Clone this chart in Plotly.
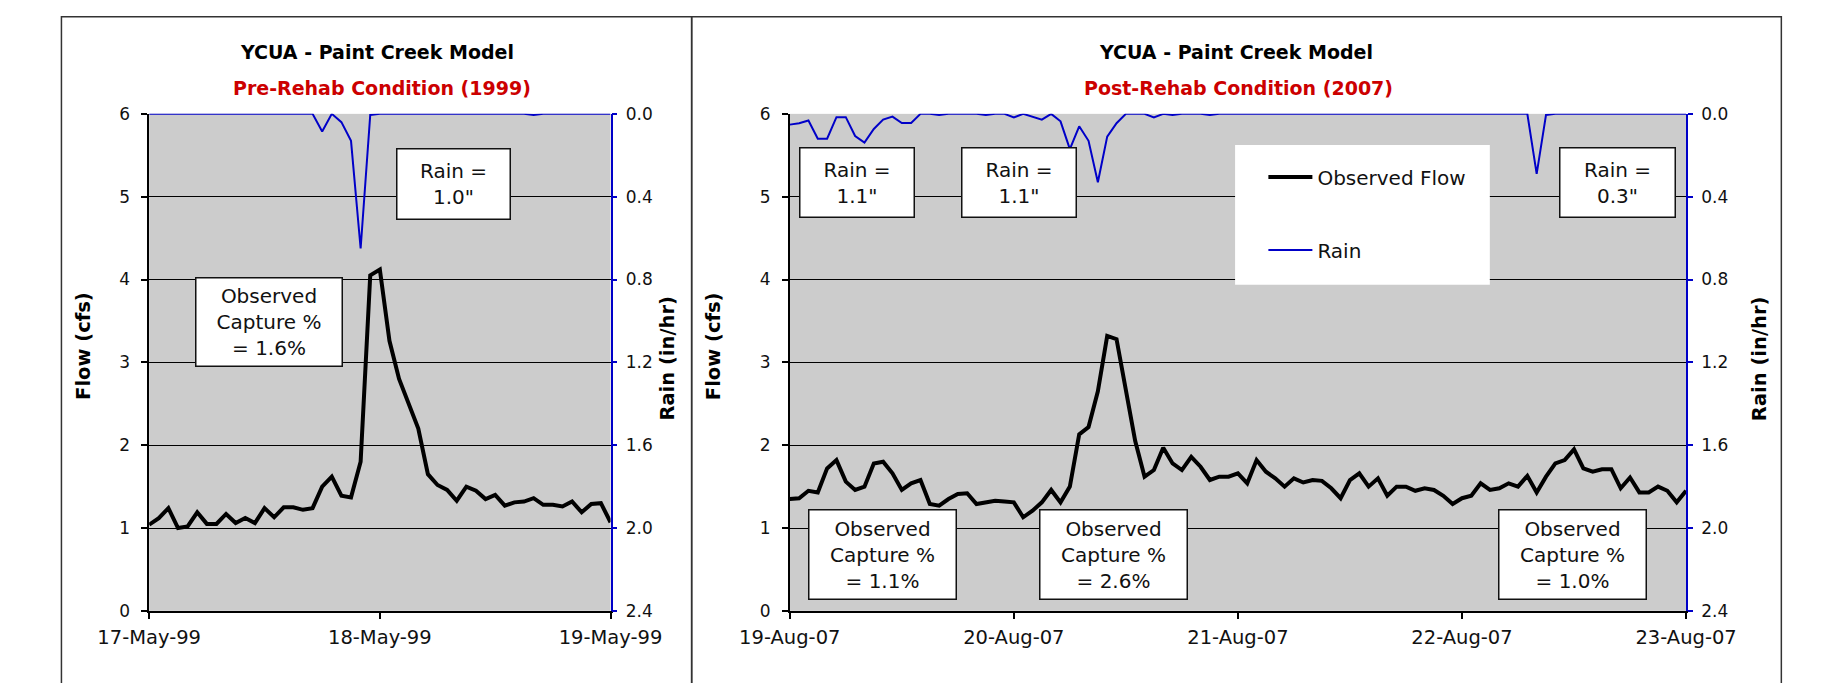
import pandas as pd
import plotly.graph_objects as go

W, H = 1839, 683

# ---- Pre-rehab event, hourly readings from 17-May-1999 00:00 ----
pre_start = "1999-05-17 00:00"
pre_flow = [
    1.04, 1.12, 1.24, 1.00, 1.02, 1.19, 1.05, 1.05, 1.17, 1.06,
    1.12, 1.06, 1.24, 1.13, 1.25, 1.25, 1.22, 1.24, 1.50, 1.62,
    1.39, 1.37, 1.80, 4.05, 4.12, 3.26, 2.80, 2.50, 2.20, 1.65,
    1.52, 1.46, 1.33, 1.50, 1.45, 1.35, 1.40, 1.27, 1.31, 1.32,
    1.36, 1.28, 1.28, 1.26, 1.32, 1.19, 1.29, 1.30, 1.07,
]
pre_rain = [
    0, 0, 0, 0, 0, 0, 0, 0, 0, 0,
    0, 0, 0, 0, 0, 0, 0, 0, 0.085, 0,
    0.04, 0.13, 0.65, 0.005, 0, 0, 0, 0, 0, 0,
    0, 0, 0, 0, 0, 0, 0, 0, 0, 0,
    0.005, 0, 0, 0, 0, 0, 0, 0, 0,
]
pre_days = ["1999-05-17", "1999-05-18", "1999-05-19"]

# ---- Post-rehab period, hourly readings from 19-Aug-2007 00:00 ----
post_start = "2007-08-19 00:00"
post_flow = [
    1.35, 1.36, 1.45, 1.43, 1.72, 1.82, 1.56, 1.46, 1.50, 1.78,
    1.80, 1.66, 1.46, 1.54, 1.58, 1.29, 1.27, 1.35, 1.41, 1.42,
    1.29, 1.31, 1.33, 1.32, 1.31, 1.13, 1.21, 1.31, 1.46, 1.31,
    1.50, 2.13, 2.22, 2.65, 3.32, 3.28, 2.65, 2.05, 1.62, 1.70,
    1.97, 1.78, 1.70, 1.86, 1.74, 1.58, 1.62, 1.62, 1.66, 1.54,
    1.82, 1.68, 1.60, 1.50, 1.60, 1.55, 1.58, 1.57, 1.48, 1.36,
    1.58, 1.66, 1.50, 1.60, 1.39, 1.50, 1.50, 1.45, 1.48, 1.46,
    1.39, 1.29, 1.36, 1.39, 1.54, 1.46, 1.48, 1.54, 1.50, 1.63,
    1.43, 1.62, 1.78, 1.82, 1.95, 1.72, 1.68, 1.71, 1.71, 1.48,
    1.61, 1.43, 1.43, 1.50, 1.45, 1.31, 1.45,
]
post_rain = [
    0.052, 0.045, 0.032, 0.12, 0.12, 0.016, 0.016, 0.107, 0.139, 0.073,
    0.028, 0.013, 0.044, 0.044, 0, 0, 0.005, 0, 0, 0,
    0, 0.005, 0, 0, 0.017, 0, 0.013, 0.028, 0, 0.036,
    0.17, 0.06, 0.13, 0.33, 0.11, 0.045, 0, 0, 0, 0.017,
    0, 0.005, 0, 0, 0, 0.005, 0, 0, 0, 0,
    0, 0, 0, 0, 0, 0, 0, 0, 0, 0,
    0, 0, 0, 0, 0, 0, 0, 0, 0, 0,
    0, 0, 0, 0, 0, 0, 0, 0, 0, 0,
    0.29, 0.005, 0, 0, 0, 0, 0, 0, 0, 0,
    0, 0, 0, 0, 0, 0, 0,
]
post_days = ["2007-08-19", "2007-08-20", "2007-08-21", "2007-08-22", "2007-08-23"]

flow_ticks = [0, 1, 2, 3, 4, 5, 6]
rain_ticks = [0.0, 0.4, 0.8, 1.2, 1.6, 2.0, 2.4]

pre_time = pd.date_range(pre_start, periods=len(pre_flow), freq="h")
post_time = pd.date_range(post_start, periods=len(post_flow), freq="h")

FONT = "DejaVu Sans"
BLUE = "#0000c8"
RED = "#cc0000"
PLOT_BG = "#cccccc"


def px_x(v):
    return v / W


def px_y(v):
    return 1 - v / H


Y_DOM = [px_y(619), px_y(107)]
LEFT_DOM = [px_x(103), px_x(592)]
RIGHT_DOM = [px_x(782), px_x(1732)]

fig = go.Figure()

fig.add_trace(go.Scatter(x=pre_time, y=pre_flow, xaxis="x", yaxis="y", mode="lines",
                         line=dict(color="black", width=4), name="Observed Flow",
                         showlegend=False))
fig.add_trace(go.Scatter(x=pre_time, y=pre_rain, xaxis="x", yaxis="y2", mode="lines",
                         line=dict(color=BLUE, width=2), name="Rain", showlegend=False))
fig.add_trace(go.Scatter(x=post_time, y=post_flow, xaxis="x2", yaxis="y3", mode="lines",
                         line=dict(color="black", width=4), name="Observed Flow",
                         legendgroup="flow"))
fig.add_trace(go.Scatter(x=post_time, y=post_rain, xaxis="x2", yaxis="y4", mode="lines",
                         line=dict(color=BLUE, width=2), name="Rain", legendgroup="rain"))


def x_axis(dom, anchor, days):
    return dict(domain=dom, anchor=anchor, type="date", range=[days[0], days[-1]],
                tickvals=days, tickformat="%d-%b-%y", ticks="outside", ticklen=6,
                tickcolor="black", tickwidth=1.5, showline=True, linecolor="black",
                linewidth=1.5, showgrid=False, zeroline=False, ticklabelstandoff=2,
                tickfont=dict(family=FONT, size=19.5, color="#111"))


def flow_axis(anchor):
    return dict(domain=Y_DOM, anchor=anchor, range=[0, 6], tickvals=flow_ticks,
                ticks="outside", ticklen=6, tickcolor="black", tickwidth=1.5,
                showline=True, linecolor="black", linewidth=1.5, showgrid=True,
                gridcolor="black", gridwidth=1.2, zeroline=False, ticklabelstandoff=8,
                tickfont=dict(family=FONT, size=17, color="#111"))


def rain_axis(anchor, over):
    return dict(domain=Y_DOM, anchor=anchor, overlaying=over, side="right",
                range=[2.4, 0], tickvals=rain_ticks, tickformat=".1f",
                ticks="outside", ticklen=5, tickcolor=BLUE, tickwidth=1.5,
                showline=True, linecolor=BLUE, linewidth=1.5, showgrid=False,
                zeroline=False, ticklabelstandoff=5,
                tickfont=dict(family=FONT, size=17, color="#111"))


annotations = []


def text_at(x, y, text, size, color="black", bold=False, angle=0):
    if bold:
        text = "<b>" + text + "</b>"
    annotations.append(dict(x=px_x(x), y=px_y(y), xref="paper", yref="paper",
                            text=text, showarrow=False, textangle=angle,
                            xanchor="center", yanchor="middle",
                            font=dict(family=FONT, size=size, color=color)))


def box_at(cx, cy, w, h, text):
    annotations.append(dict(x=px_x(cx), y=px_y(cy), xref="paper", yref="paper",
                            text=text, showarrow=False, xanchor="center",
                            yanchor="middle", width=w, height=h, borderpad=0,
                            bgcolor="white", bordercolor="#111", borderwidth=1.5,
                            align="center",
                            font=dict(family=FONT, size=20, color="#111")))


# titles
text_at(344, 43, "YCUA - Paint Creek Model", 19, bold=True)
text_at(350, 80, "Pre-Rehab Condition (1999)", 19, color=RED, bold=True)
text_at(1255, 43, "YCUA - Paint Creek Model", 19, bold=True)
text_at(1258, 80, "Post-Rehab Condition (2007)", 19, color=RED, bold=True)

# axis titles
text_at(34, 346, "Flow (cfs)", 19.5, bold=True, angle=-90)
text_at(652, 359, "Rain (in/hr)", 19.5, bold=True, angle=-90)
text_at(702, 346, "Flow (cfs)", 19.5, bold=True, angle=-90)
text_at(1810, 359, "Rain (in/hr)", 19.5, bold=True, angle=-90)

# event call-outs
box_at(426, 179.5, 112, 69, "Rain =<br>1.0\"")
box_at(229.5, 321.5, 145, 87, "Observed<br>Capture %<br>= 1.6%")
box_at(853, 178, 113, 68, "Rain =<br>1.1\"")
box_at(1025, 178, 113, 68, "Rain =<br>1.1\"")
box_at(1659, 178, 114, 68, "Rain =<br>0.3\"")
box_at(880, 561, 146, 88, "Observed<br>Capture %<br>= 1.1%")
box_at(1125, 561, 146, 88, "Observed<br>Capture %<br>= 2.6%")
box_at(1612, 561, 146, 88, "Observed<br>Capture %<br>= 1.0%")

shapes = [
    # panel frames
    dict(type="rect", xref="paper", yref="paper", x0=px_x(10), x1=px_x(678),
         y0=px_y(700), y1=px_y(7), line=dict(color="#333", width=1.5)),
    dict(type="rect", xref="paper", yref="paper", x0=px_x(678), x1=px_x(1833),
         y0=px_y(700), y1=px_y(7), line=dict(color="#333", width=1.5)),
    # legend backing
    dict(type="rect", xref="paper", yref="paper", x0=px_x(1254), x1=px_x(1524),
         y0=px_y(283), y1=px_y(139), fillcolor="white", line=dict(width=0),
         layer="above"),
]

fig.update_layout(
    width=W, height=H,
    margin=dict(l=0, r=0, t=0, b=0),
    paper_bgcolor="white", plot_bgcolor=PLOT_BG,
    font=dict(family=FONT, color="#111"),
    xaxis=x_axis(LEFT_DOM, "y", pre_days),
    yaxis=flow_axis("x"),
    yaxis2=rain_axis("x", "y"),
    xaxis2=x_axis(RIGHT_DOM, "y3", post_days),
    yaxis3=flow_axis("x2"),
    yaxis4=rain_axis("x2", "y3"),
    legend=dict(x=px_x(1284), y=px_y(152), xanchor="left", yanchor="top",
                bgcolor="rgba(0,0,0,0)", borderwidth=0, tracegroupgap=44,
                itemwidth=44,
                font=dict(family=FONT, size=20, color="#111")),
    annotations=annotations,
    shapes=shapes,
    showlegend=True,
)

fig.write_html("out.html")
